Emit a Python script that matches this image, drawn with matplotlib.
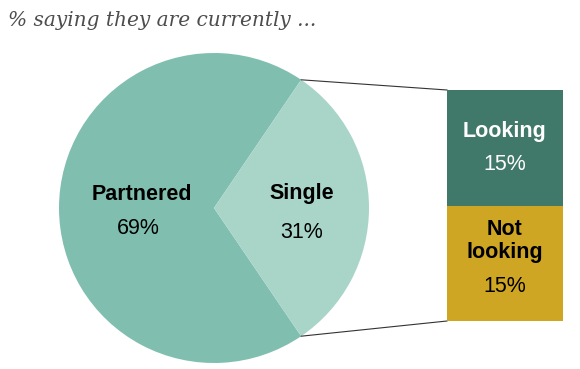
import matplotlib
matplotlib.use("Agg")
import matplotlib.pyplot as plt
import math

# Data
pie_labels = ["Partnered", "Single"]
pie_values = [69, 31]
pie_colors = ["#80bfaf", "#a9d5c9"]
bar_labels = ["Not\nlooking", "Looking"]
bar_values = [15, 15]
bar_colors = ["#cfa623", "#40786a"]
bar_text_colors = ["black", "white"]
title = "% saying they are currently ..."

W, H = 580, 369
fig = plt.figure(figsize=(W / 100, H / 100), dpi=100)
ax = fig.add_axes([0, 0, 1, 1])

cx, cy, r = 214, 161, 155
single_half = 360 * pie_values[1] / sum(pie_values) / 2
ax.pie(pie_values, colors=pie_colors, startangle=single_half, counterclock=True,
       center=(cx, cy), radius=r, frame=True,
       wedgeprops=dict(linewidth=0))
ax.set_xlim(0, W)
ax.set_ylim(0, H)
ax.set_aspect("equal")
ax.axis("off")

font = "Liberation Sans"
fs = 15.5
ax.text(142, 175, pie_labels[0], ha="center", va="center", fontsize=fs,
        fontweight="bold", family=font)
ax.text(138, 141, f"{pie_values[0]}%", ha="center", va="center", fontsize=fs, family=font)
ax.text(302, 175, pie_labels[1], ha="center", va="center", fontsize=fs,
        fontweight="bold", family=font)
ax.text(302, 137, f"{pie_values[1]}%", ha="center", va="center", fontsize=fs, family=font)

# Bar axes
bx0, bx1, by0, by1 = 447, 563, 48, 279
bax = fig.add_axes([bx0 / W, by0 / H, (bx1 - bx0) / W, (by1 - by0) / H])
bottom = 0
for lab, v, c in zip(bar_labels, bar_values, bar_colors):
    bax.bar(0, v, width=1, bottom=bottom, color=c, linewidth=0)
    bottom += v
bax.set_xlim(-0.5, 0.5)
bax.set_ylim(0, sum(bar_values))
bax.axis("off")

def ypos(pix):
    return sum(bar_values) * (321 - pix) / (321 - 90)

bax.text(0, ypos(132), bar_labels[1], ha="center", va="center",
         fontsize=fs, fontweight="bold", color=bar_text_colors[1], family=font)
bax.text(0, ypos(164), f"{bar_values[1]}%", ha="center", va="center",
         fontsize=fs, color=bar_text_colors[1], family=font)
bax.text(0, ypos(241), bar_labels[0], ha="center", va="center",
         fontsize=fs, fontweight="bold", color=bar_text_colors[0], family=font,
         linespacing=1.15)
bax.text(0, ypos(286), f"{bar_values[0]}%", ha="center", va="center",
         fontsize=fs, color=bar_text_colors[0], family=font)

# Connector lines
a = math.radians(single_half)
px, py_top, py_bot = cx + r * math.cos(a), cy + r * math.sin(a), cy - r * math.sin(a)
ax.plot([px, bx0], [py_top, by1], color="#333333", lw=0.8)
ax.plot([px, bx0], [py_bot, by0], color="#333333", lw=0.8)

ax.text(8, H - 20, title, ha="left", va="center", fontsize=14.5, style="italic",
        family="DejaVu Serif", color="#4d4d4d")

fig.savefig("out.png", dpi=100)
